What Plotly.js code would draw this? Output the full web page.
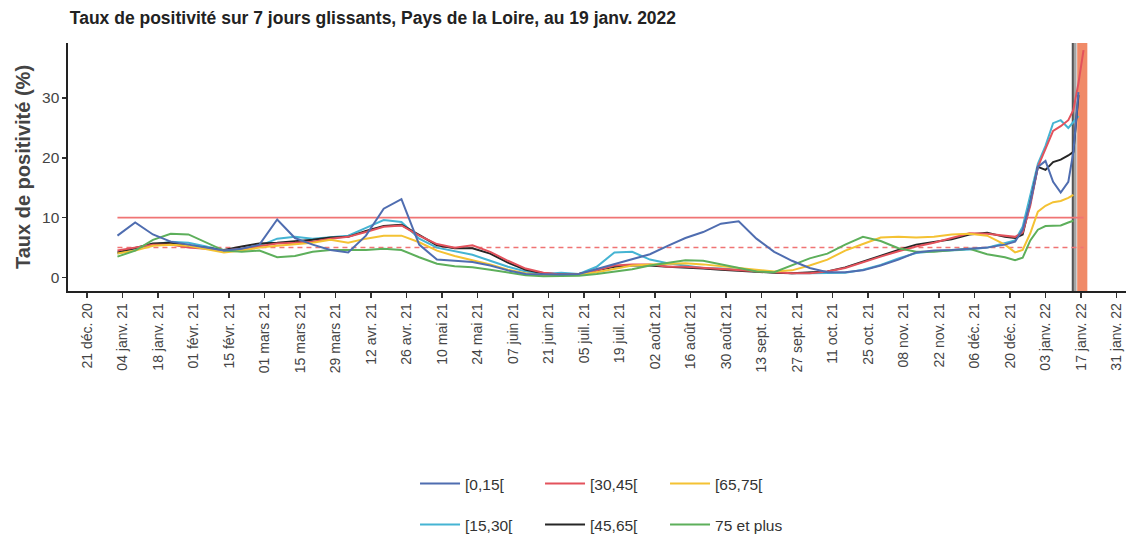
<!DOCTYPE html>
<html>
<head>
<meta charset="utf-8">
<script src="https://cdn.plot.ly/plotly-3.0.1.min.js"></script>
<style>html,body{margin:0;padding:0;background:#fff;}#chart{width:1126px;height:537px;}</style>
</head>
<body>
<div id="chart"></div>
<script>
// ---- Data ----
const dates = [
 '2021-01-02','2021-01-09','2021-01-16','2021-01-23','2021-01-30',
 '2021-02-06','2021-02-13','2021-02-20','2021-02-27',
 '2021-03-06','2021-03-13','2021-03-20','2021-03-27',
 '2021-04-03','2021-04-10','2021-04-17','2021-04-24',
 '2021-05-01','2021-05-08','2021-05-15','2021-05-22','2021-05-29',
 '2021-06-05','2021-06-12','2021-06-19','2021-06-26',
 '2021-07-03','2021-07-10','2021-07-17','2021-07-24','2021-07-31',
 '2021-08-07','2021-08-14','2021-08-21','2021-08-28',
 '2021-09-04','2021-09-11','2021-09-18','2021-09-25',
 '2021-10-02','2021-10-09','2021-10-16','2021-10-23','2021-10-30',
 '2021-11-06','2021-11-13','2021-11-20','2021-11-27',
 '2021-12-04','2021-12-11','2021-12-18',
 '2021-12-22','2021-12-25','2021-12-28','2021-12-31',
 '2022-01-03','2022-01-06','2022-01-09','2022-01-12','2022-01-14','2022-01-16','2022-01-18'
];
const age0_15 = [
 7.0,9.2,7.2,6.0,5.5, 5.0,4.5,4.8,5.5, 9.7,6.6,5.5,4.6, 4.2,7.0,11.5,13.1,
 5.5,3.0,2.8,2.6,2.0, 1.2,0.6,0.5,0.5, 0.6,1.4,2.2,3.0,3.9, 5.3,6.6,7.6,9.0,
 9.4,6.5,4.3,2.8, 1.6,0.9,0.9,1.2,2.0, 3.0,4.2,4.5,4.6, 4.8,5.0,5.5,
 6.0,8.0,12.5,18.5, 19.5,16.0,14.2,16.0,21.0,31.0,null
];
const age15_30 = [
 4.0,4.8,5.5,6.0,5.8, 5.2,4.5,4.8,5.3, 6.5,6.8,6.5,6.8, 7.0,8.3,9.6,9.3,
 6.5,5.0,4.4,3.8,2.8, 1.8,1.0,0.6,0.8, 0.6,1.8,4.2,4.3,3.0, 2.4,2.0,1.6,1.5,
 1.3,1.1,0.9,0.7, 0.7,0.7,0.8,1.3,2.1, 3.2,4.1,4.4,4.5, 4.7,5.0,5.8,
 6.2,8.5,13.5,19.0, 22.0,25.8,26.3,25.0,26.0,27.0,null
];
const age30_45 = [
 4.5,5.0,5.5,5.5,5.0, 4.8,4.5,4.8,5.3, 5.7,5.8,6.0,6.5, 6.8,7.6,8.5,8.7,
 7.0,5.6,5.0,5.4,4.3, 2.8,1.5,0.8,0.5, 0.6,1.2,2.0,2.2,2.2, 1.8,1.8,1.6,1.4,
 1.2,1.0,0.8,0.7, 0.7,1.0,1.6,2.6,3.5, 4.4,5.2,5.8,6.6, 7.4,7.3,7.0,
 6.8,7.5,12.0,18.5, 21.5,24.5,25.3,26.3,28.0,32.5,38.0
];
const age45_65 = [
 4.2,5.0,5.7,5.8,5.3, 5.0,4.6,5.2,5.7, 5.8,6.0,6.3,6.7, 6.8,7.8,8.6,8.8,
 7.1,5.4,4.9,4.9,4.0, 2.5,1.3,0.7,0.5, 0.6,1.2,1.8,2.0,2.0, 1.8,1.7,1.5,1.3,
 1.1,0.9,0.8,0.7, 0.8,1.0,1.7,2.7,3.6, 4.6,5.5,6.0,6.4, 7.2,7.5,6.8,
 6.6,7.2,12.5,18.5, 18.0,19.3,19.7,20.4,21.0,30.5,null
];
const age65_75 = [
 4.0,4.5,5.3,5.5,5.3, 4.8,4.2,4.5,5.0, 5.3,5.5,5.8,6.3, 5.8,6.5,7.0,7.0,
 5.9,4.5,3.6,2.9,2.2, 1.3,0.7,0.4,0.4, 0.5,0.9,1.5,2.0,2.2, 2.3,2.4,2.2,1.9,
 1.6,1.2,1.0,1.2, 2.0,3.0,4.5,5.6,6.7, 6.8,6.7,6.8,7.2, 7.3,7.0,5.5,
 4.2,4.6,7.4,11.0, 12.0,12.6,12.8,13.3,13.8,null,null
];
const age75plus = [
 3.5,4.5,6.3,7.3,7.2, 5.8,4.5,4.3,4.5, 3.4,3.6,4.3,4.6, 4.6,4.6,4.8,4.6,
 3.4,2.3,1.9,1.7,1.3, 0.8,0.4,0.2,0.2, 0.3,0.6,1.0,1.4,2.0, 2.5,2.9,2.8,2.2,
 1.7,1.0,0.9,2.1, 3.2,4.0,5.5,6.8,6.1, 4.9,4.3,4.3,4.6, 4.8,3.9,3.4,
 2.9,3.3,6.2,8.0, 8.6,8.7,8.7,9.2,9.5,null,null
];
const seriesNames = ['[0,15[','[30,45[','[65,75[','[15,30[','[45,65[','75 et plus'];
const seriesColors = ['#4F6DB0','#E3525C','#F4C233','#45B4D3','#262626','#5DAF5B'];
const seriesValues = [age0_15, age30_45, age65_75, age15_30, age45_65, age75plus];
const seriesLegend = ['legend','legend','legend','legend2','legend2','legend2'];
const seriesRank = [1,2,3,1,2,3];

const thresholdStart = '2021-01-02';
const thresholdEnd = '2022-01-18';
const thresholdHigh = 10;
const thresholdLow = 5;

const grayBand = ['2022-01-13 18:00','2022-01-15 06:00'];
const orangeBand = ['2022-01-15 12:00','2022-01-19 12:00'];

const tickDates = ['2020-12-21','2021-01-04','2021-01-18','2021-02-01','2021-02-15','2021-03-01','2021-03-15','2021-03-29','2021-04-12','2021-04-26','2021-05-10','2021-05-24','2021-06-07','2021-06-21','2021-07-05','2021-07-19','2021-08-02','2021-08-16','2021-08-30','2021-09-13','2021-09-27','2021-10-11','2021-10-25','2021-11-08','2021-11-22','2021-12-06','2021-12-20','2022-01-03','2022-01-17','2022-01-31'];
const tickLabels = ['21 déc. 20','04 janv. 21','18 janv. 21','01 févr. 21','15 févr. 21','01 mars 21','15 mars 21','29 mars 21','12 avr. 21','26 avr. 21','10 mai 21','24 mai 21','07 juin 21','21 juin 21','05 juil. 21','19 juil. 21','02 août 21','16 août 21','30 août 21','13 sept. 21','27 sept. 21','11 oct. 21','25 oct. 21','08 nov. 21','22 nov. 21','06 déc. 21','20 déc. 21','03 janv. 22','17 janv. 22','31 janv. 22'];

// ---- Traces ----
const FONT = 'Liberation Sans, Arial, Helvetica, sans-serif';
const traces = [];
traces.push({x:[thresholdStart,thresholdEnd], y:[thresholdHigh,thresholdHigh], mode:'lines',
  line:{color:'#F07474', width:1.8}, showlegend:false, hoverinfo:'skip'});
traces.push({x:[thresholdStart,thresholdEnd], y:[thresholdLow,thresholdLow], mode:'lines',
  line:{color:'#F07474', width:1.5, dash:'5px,4px'}, showlegend:false, hoverinfo:'skip'});
const drawOrder = [3,4,1,2,5,0];
drawOrder.forEach(i => {
  traces.push({x:dates, y:seriesValues[i], name:seriesNames[i], mode:'lines',
    line:{color:seriesColors[i], width:2}, legend:seriesLegend[i], legendrank:seriesRank[i]});
});

const legendCommon = {orientation:'h', xanchor:'left', yanchor:'middle', x:0.328,
  font:{family:FONT, size:15.5, color:'#333'}, bgcolor:'rgba(0,0,0,0)',
  itemwidth:40, entrywidth:70, entrywidthmode:'pixels', traceorder:'normal', borderwidth:0};

const layout = {
  width:1126, height:537,
  margin:{l:68, r:0, t:43, b:246, autoexpand:false},
  paper_bgcolor:'#fff', plot_bgcolor:'#fff',
  font:{family:FONT, color:'#333'},
  title:{text:'<b>Taux de positivité sur 7 jours glissants, Pays de la Loire, au 19 janv. 2022</b>',
    x:0.062, xanchor:'left', y:1-18/537, yanchor:'middle', font:{family:FONT, size:17.5, color:'#222'}},
  xaxis:{type:'date', range:['2020-12-13 12:00','2022-02-03 18:00'],
    tickvals:tickDates, ticktext:tickLabels, tickangle:-90,
    ticks:'outside', ticklen:5, tickwidth:1.3, tickcolor:'#333',
    showline:true, linecolor:'#222', linewidth:1.6, showgrid:false, zeroline:false,
    tickfont:{family:FONT, size:14, color:'#444'}},
  yaxis:{range:[-2.25,39.2], tickvals:[0,10,20,30], ticks:'outside', ticklen:4, tickwidth:1.3, tickcolor:'#333',
    showline:true, linecolor:'#222', linewidth:1.6, showgrid:false, zeroline:false,
    tickfont:{family:FONT, size:15.5, color:'#444'},
    title:{text:'<b>Taux de positivité (%)</b>', font:{family:FONT, size:20, color:'#444'}, standoff:6}},
  legend:Object.assign({}, legendCommon, {y:(291-484)/248}),
  legend2:Object.assign({}, legendCommon, {y:(291-525)/248}),
  shapes:[
    {type:'rect', xref:'x', yref:'paper', x0:grayBand[0], x1:grayBand[1], y0:0, y1:1,
      fillcolor:'#a5a5a5', line:{width:0}, layer:'below'},
    {type:'line', xref:'x', yref:'paper', x0:grayBand[0], x1:grayBand[0], y0:0, y1:1,
      line:{color:'#555', width:2}, layer:'below'},
    {type:'rect', xref:'x', yref:'paper', x0:orangeBand[0], x1:orangeBand[1], y0:0, y1:1,
      fillcolor:'#F08A68', line:{width:0}, layer:'below'}
  ],
  showlegend:true
};

Plotly.newPlot('chart', traces, layout, {displayModeBar:false, staticPlot:true});
</script>
</body>
</html>
